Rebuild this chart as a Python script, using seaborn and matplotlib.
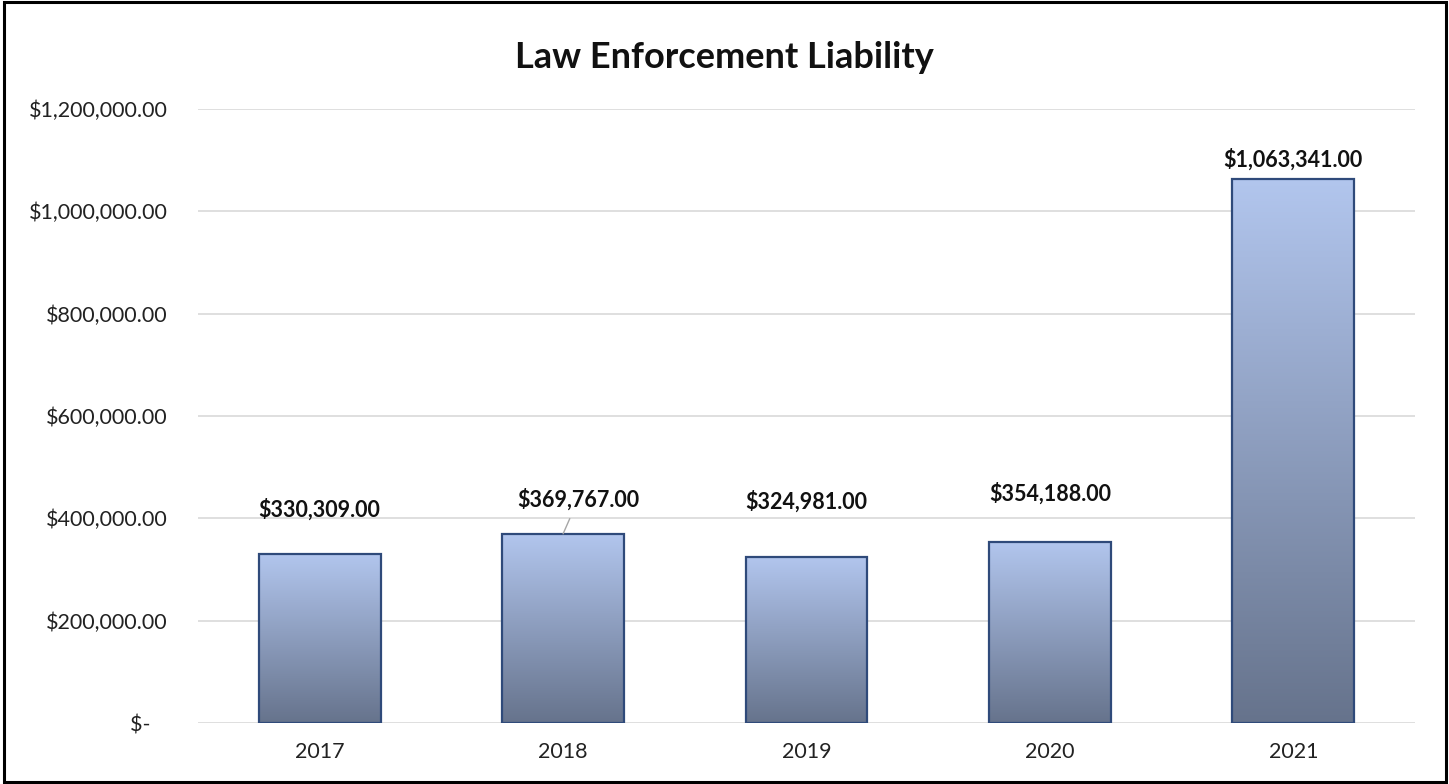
import matplotlib
matplotlib.use("Agg")
import matplotlib.pyplot as plt
import seaborn as sns
import numpy as np
import pandas as pd
from matplotlib.colors import LinearSegmentedColormap
from matplotlib.patches import Rectangle
from matplotlib.ticker import FuncFormatter

# === datos ===
years = ["2017", "2018", "2019", "2020", "2021"]
liability = [330309.00, 369767.00, 324981.00, 354188.00, 1063341.00]
# desplazamiento de etiquetas (puntos) respecto a la parte alta de cada barra
label_dx = [0, 11, 0, 0, 0]
label_dy = [32, 25, 40, 35, 14]

sns.set_theme(style="whitegrid")
plt.rcParams["font.family"] = ["Lato", "DejaVu Sans"]

df = pd.DataFrame({"year": years, "liability": liability})

fig = plt.figure(figsize=(14.49, 7.84), dpi=100)
ax = fig.add_axes([198 / 1449, 61 / 784, 1217 / 1449, 614 / 784])

sns.barplot(data=df, x="year", y="liability", ax=ax, width=0.5,
            color="#A9BCE0", edgecolor="#2F4A7A", linewidth=1.6, zorder=3)

# degradado vertical dentro de cada barra
cmap = LinearSegmentedColormap.from_list("grad", ["#66738C", "#B2C6EE"])
grad = np.linspace(0, 1, 256).reshape(-1, 1)
for bar in ax.patches:
    x0, y0 = bar.get_x(), bar.get_y()
    w, h = bar.get_width(), bar.get_height()
    bar.set_facecolor("none")
    im = ax.imshow(grad, cmap=cmap, aspect="auto", origin="lower",
                   extent=[x0, x0 + w, y0, y0 + h], zorder=2)
    im.set_clip_path(bar)

ax.set_xlim(-0.5, 4.5)
ax.set_ylim(0, 1200000)
ax.set_yticks(np.arange(0, 1200001, 200000))


def money(v, pos):
    if v == 0:
        return "$-   "
    return f"${v:,.2f}"


ax.yaxis.set_major_formatter(FuncFormatter(money))
ax.tick_params(axis="both", length=0, labelsize=15.5, colors="#222222")
ax.tick_params(axis="y", pad=22)
ax.tick_params(axis="x", pad=14)
ax.set_xlabel("")
ax.set_ylabel("")
ax.grid(axis="y", color="#D9D9D9", linewidth=1.2)
ax.grid(axis="x", visible=False)
for s in ax.spines.values():
    s.set_visible(False)

# etiquetas de valores
for i, bar in enumerate(ax.patches):
    xc = bar.get_x() + bar.get_width() / 2
    top = bar.get_height()
    props = None
    if label_dx[i] != 0:
        props = dict(arrowstyle="-", color="#A6A6A6", lw=1.0,
                     shrinkA=4, shrinkB=0)
    ax.annotate(f"${liability[i]:,.2f}", xy=(xc, top),
                xytext=(label_dx[i], label_dy[i]), textcoords="offset points",
                ha="center", va="center", fontsize=15.5, fontweight="bold",
                color="#111111", arrowprops=props, zorder=5)

fig.suptitle("Law Enforcement Liability", fontsize=26, fontweight="bold",
             y=0.927, va="center", color="#111111")

# marco exterior
fig.patches.append(Rectangle((0.0025, 0.002), 0.9955, 0.996,
                             transform=fig.transFigure, fill=False,
                             edgecolor="black", linewidth=2.2))

fig.savefig("out.png", dpi=100)
